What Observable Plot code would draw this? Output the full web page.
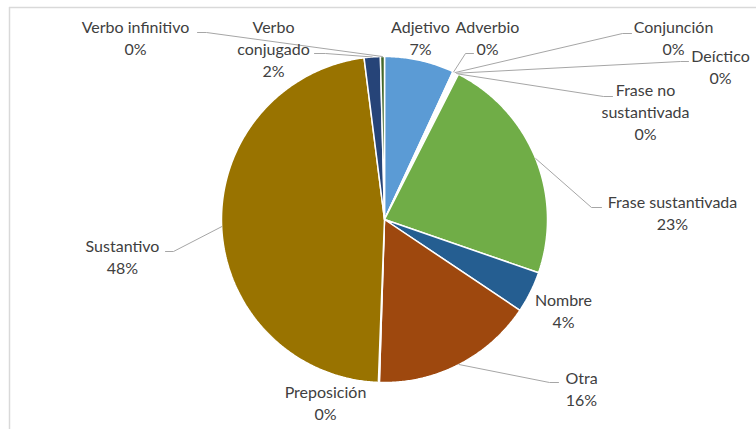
<!DOCTYPE html>
<html>
<head>
<meta charset="utf-8">
<script src="https://cdn.jsdelivr.net/npm/d3@7"></script>
<script src="https://cdn.jsdelivr.net/npm/@observablehq/plot@0.6"></script>
<style>
  html, body { margin: 0; padding: 0; background: #fff; }
  #chart svg { display: block; }
</style>
</head>
<body>
<div id="chart"></div>
<script>
// ---- Data ----
const categories = ["Adjetivo", "Adverbio", "Conjunción", "Deíctico", "Frase no sustantivada",
  "Frase sustantivada", "Nombre", "Otra", "Preposición", "Sustantivo", "Verbo conjugado", "Verbo infinitivo"];
const values = [6.9, 0.15, 0.15, 0.15, 0.15, 22.8, 4.1, 16.1, 0.1, 47.4, 1.6, 0.4];
const percentLabels = ["7%", "0%", "0%", "0%", "0%", "23%", "4%", "16%", "0%", "48%", "2%", "0%"];
const labelLines = [["Adjetivo"], ["Adverbio"], ["Conjunción"], ["Deíctico"], ["Frase no", "sustantivada"],
  ["Frase sustantivada"], ["Nombre"], ["Otra"], ["Preposición"], ["Sustantivo"], ["Verbo", "conjugado"], ["Verbo infinitivo"]];
const colors = ["#5B9BD5", "#ED7D31", "#A5A5A5", "#FFC000", "#4472C4", "#70AD47",
  "#255E91", "#9E480E", "#636363", "#997300", "#264478", "#43682B"];

// ---- Layout (pixels) ----
const W = 756, H = 429;
const cx = 384, cy = 219, R = 163;
// label anchor: [centerX, firstLineY], leader: [textSideX, y, elbowX] or null
const labelAnchor = [[420, 27], [487, 27], [673, 27], [720, 56], [645, 90], [672, 202],
  [563, 300], [581, 378], [325, 392], [122, 246], [273, 27], [135, 27]];
const leaderSide = [null, [473, 53, 465], [631, 33, 622], [688, 61, 680], [612, 96, 603], [601, 207, 591],
  null, [558, 382, 549], null, [165, 251, 173], [314, 53, 325], [197, 32, 206]];
const lineGap = 22;

// ---- Build ----
const table = categories.map((name, i) => ({name, value: values[i], pct: percentLabels[i]}));
const arcs = d3.pie().sort(null).value(d => d.value).startAngle(0).endAngle(2 * Math.PI)(table);
const px = a => cx + R * Math.sin(a);
const py = a => cy - R * Math.cos(a);

const slicePts = [];
arcs.forEach(a => {
  const name = a.data.name;
  slicePts.push({name, x: cx, y: cy});
  const n = Math.max(2, Math.ceil((a.endAngle - a.startAngle) / (Math.PI / 360)));
  for (let k = 0; k <= n; k++) {
    const t = a.startAngle + (a.endAngle - a.startAngle) * k / n;
    slicePts.push({name, x: px(t), y: py(t)});
  }
  slicePts.push({name, x: cx, y: cy});
});

const textRows = [];
table.forEach((d, i) => {
  const lines = [...labelLines[i], d.pct];
  lines.forEach((s, j) => textRows.push({text: s, x: labelAnchor[i][0], y: labelAnchor[i][1] + j * lineGap}));
});

const leaderPts = [];
arcs.forEach((a, i) => {
  const L = leaderSide[i];
  if (!L) return;
  const mid = (a.startAngle + a.endAngle) / 2;
  const name = a.data.name;
  leaderPts.push({name, x: L[0], y: L[1]});
  leaderPts.push({name, x: L[2], y: L[1]});
  leaderPts.push({name, x: px(mid), y: py(mid)});
});

const chart = Plot.plot({
  width: W, height: H,
  margin: 0,
  x: {domain: [0, W], range: [0, W], axis: null},
  y: {domain: [0, H], range: [0, H], axis: null},
  color: {domain: categories, range: colors},
  style: {fontFamily: "Lato, 'Open Sans', sans-serif", background: "#fff"},
  marks: [
    Plot.ruleY([7], {x1: 9, x2: W, stroke: "#d9d9d9", strokeWidth: 1.5}),
    Plot.ruleX([9], {y1: 7, y2: H, stroke: "#d9d9d9", strokeWidth: 1.5}),
    Plot.line(slicePts, {x: "x", y: "y", z: "name", fill: "name", stroke: "white", strokeWidth: 1.5, strokeLinejoin: "miter"}),
    Plot.line(leaderPts, {x: "x", y: "y", z: "name", stroke: "#a6a6a6", strokeWidth: 1}),
    Plot.text(textRows, {x: "x", y: "y", text: "text", fill: "#404040", fontSize: 16, textAnchor: "middle", lineAnchor: "middle"})
  ]
});
document.getElementById("chart").append(chart);
</script>
</body>
</html>
